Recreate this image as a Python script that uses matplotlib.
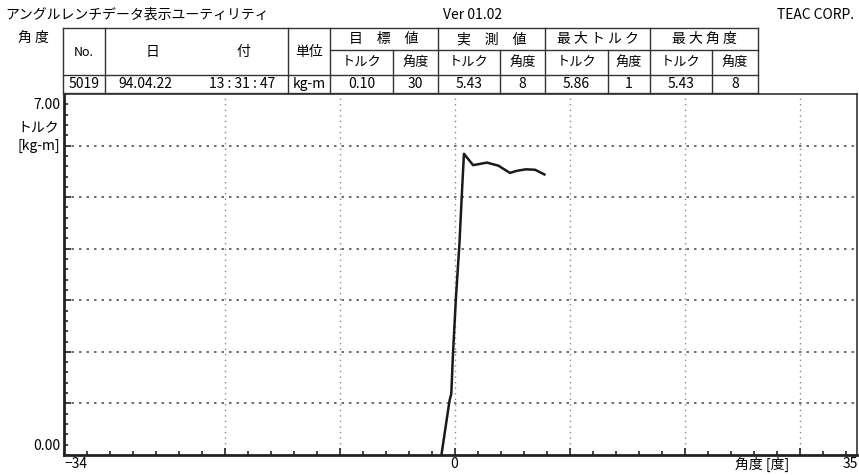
import numpy as np
import matplotlib
matplotlib.use('Agg')
import matplotlib.pyplot as plt
from matplotlib.ticker import MultipleLocator

plt.rcParams['font.family'] = ['Noto Sans CJK JP', 'DejaVu Sans']

# curve: angle [deg] vs torque [kg-m]
angle = [-1.16, -0.45, -0.3, -0.15, 0.1, 0.4, 0.67, 0.8, 1.6, 2.8, 3.8, 4.8, 5.4, 6.2, 7.0, 7.8]
torque = [0.0, 1.06, 1.19, 1.98, 3.04, 4.07, 5.29, 5.84, 5.62, 5.67, 5.61, 5.47, 5.51, 5.54, 5.53, 5.44]

x_min, x_max = -34, 35
y_min, y_max = 0.0, 7.0

title = 'アングルレンチデータ表示ユーティリティ'
version = 'Ver 01.02'
maker = 'TEAC CORP.'

# header table
group_heads = ['目　標　値', '実　測　値', '最 大 ト ル ク', '最 大 角 度']
sub_heads = ['トルク', '角度'] * 4
record_no = '5019'
record_date = '94.04.22'
record_time = '13 : 31 : 47'
record_unit = 'kg-m'
record_vals = ['0.10', '30', '5.43', '8', '5.86', '1', '5.43', '8']

W, H = 859, 475
fig = plt.figure(figsize=(W / 100, H / 100), dpi=100)

# plot area (pixel box 64..857 x 94..455)
ax = fig.add_axes([64 / W, 1 - 455 / H, (857 - 64) / W, (455 - 94) / H])
ax.plot(angle, torque, color='#1a1a1a', lw=1.8)
ax.set_xlim(x_min, x_max)
ax.set_ylim(y_min, y_max)

ax.set_xticks([-20, -10, 0, 10, 20, 30], labels=[])
ax.xaxis.set_minor_locator(MultipleLocator(2))
ax.set_yticks([1, 2, 3, 4, 5, 6], labels=[])
ax.yaxis.set_minor_locator(MultipleLocator(0.2))
ax.tick_params(direction='in', which='major', length=5, width=1.2, color='#222222')
ax.tick_params(direction='in', which='minor', length=3, width=1.2, color='#222222')
ax.tick_params(top=False, right=False)

ax.xaxis.grid(True, linestyle=(0, (1, 3)), color='#888888', lw=1.0)
ax.yaxis.grid(True, linestyle=(0, (1.5, 3)), color='#555555', lw=1.2)
for side in ['left', 'bottom']:
    ax.spines[side].set_linewidth(2)
    ax.spines[side].set_color('#222222')
for side in ['top', 'right']:
    ax.spines[side].set_linewidth(1.2)
    ax.spines[side].set_color('#333333')

# overlay in pixel coordinates for all the texts and the table
ov = fig.add_axes([0, 0, 1, 1], facecolor='none')
ov.set_xlim(0, W)
ov.set_ylim(H, 0)
ov.axis('off')

fs = 10
ov.text(5, 15, title, fontsize=fs, va='center', ha='left')
ov.text(443, 15, version, fontsize=fs, va='center', ha='left')
ov.text(854, 15, maker, fontsize=fs, va='center', ha='right')
ov.text(33, 38, '角 度', fontsize=fs, va='center', ha='center')

# axis texts
ov.text(60, 105, '7.00', fontsize=fs, va='center', ha='right')
ov.text(59, 127, 'トルク', fontsize=fs, va='center', ha='right')
ov.text(60, 146, '[kg-m]', fontsize=fs, va='center', ha='right')
ov.text(60, 446, '0.00', fontsize=fs, va='center', ha='right')
ov.text(76, 464, '−34', fontsize=fs, va='center', ha='center')
ov.text(454, 464, '0', fontsize=fs, va='center', ha='center')
ov.text(850, 464, '35', fontsize=fs, va='center', ha='center')
ov.text(762, 464, '角度 [度]', fontsize=fs, va='center', ha='center')

# table grid
cols = [63, 105, 288, 330, 393, 438, 500, 545, 608, 650, 712, 758]
y_top, y_mid, y_sub, y_bot = 28, 50, 75, 93
lc = '#333333'
lw = 1.0
ov.plot([cols[0], cols[-1]], [y_top, y_top], color=lc, lw=lw)
ov.plot([cols[0], cols[-1]], [y_sub, y_sub], color=lc, lw=lw)
ov.plot([cols[0], cols[-1]], [y_bot, y_bot], color=lc, lw=lw)
ov.plot([cols[3], cols[-1]], [y_mid, y_mid], color=lc, lw=lw)
for i, c in enumerate(cols):
    if i in (0, 1, 2, 3, 5, 7, 9, 11):
        ov.plot([c, c], [y_top, y_bot], color=lc, lw=lw)
    else:
        ov.plot([c, c], [y_mid, y_bot], color=lc, lw=lw)

ov.text((cols[0] + cols[1]) / 2, 52, 'No.', fontsize=9, va='center', ha='center')
ov.text(152, 52, '日', fontsize=fs, va='center', ha='center')
ov.text(243, 52, '付', fontsize=fs, va='center', ha='center')
ov.text((cols[2] + cols[3]) / 2, 52, '単位', fontsize=fs, va='center', ha='center')
for k, head in enumerate(group_heads):
    cx = (cols[3 + 2 * k] + cols[5 + 2 * k]) / 2
    ov.text(cx, 39, head, fontsize=fs, va='center', ha='center')
for k, head in enumerate(sub_heads):
    cx = (cols[3 + k] + cols[4 + k]) / 2
    ov.text(cx, 62.5, head, fontsize=9.5, va='center', ha='center')

ov.text((cols[0] + cols[1]) / 2, 84, record_no, fontsize=fs, va='center', ha='center')
ov.text(145, 84, record_date, fontsize=fs, va='center', ha='center')
ov.text(242, 84, record_time, fontsize=fs, va='center', ha='center')
ov.text((cols[2] + cols[3]) / 2, 84, record_unit, fontsize=fs, va='center', ha='center')
for k, v in enumerate(record_vals):
    cx = (cols[3 + k] + cols[4 + k]) / 2
    ov.text(cx, 84, v, fontsize=fs, va='center', ha='center')

fig.savefig('out.png', dpi=100)
